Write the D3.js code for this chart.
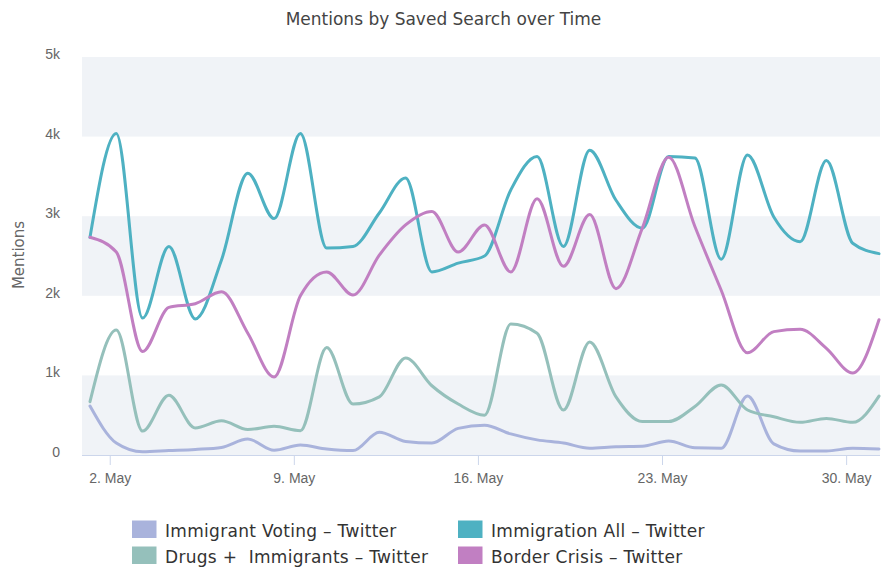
<!DOCTYPE html>
<html>
<head>
<meta charset="utf-8">
<script src="https://cdn.jsdelivr.net/npm/d3@7"></script>
<style>
  body { margin: 0; background: #fff; }
  svg { display: block; }
</style>
</head>
<body>
<script>
const dates = ['2019-05-01T06:00', '2019-05-02T06:00', '2019-05-03T06:00', '2019-05-04T06:00', '2019-05-05T06:00',
  '2019-05-06T06:00', '2019-05-07T06:00', '2019-05-08T06:00', '2019-05-09T06:00', '2019-05-10T06:00',
  '2019-05-11T06:00', '2019-05-12T06:00', '2019-05-13T06:00', '2019-05-14T06:00', '2019-05-15T06:00',
  '2019-05-16T06:00', '2019-05-17T06:00', '2019-05-18T06:00', '2019-05-19T06:00', '2019-05-20T06:00',
  '2019-05-21T06:00', '2019-05-22T06:00', '2019-05-23T06:00', '2019-05-24T06:00', '2019-05-25T06:00',
  '2019-05-26T06:00', '2019-05-27T06:00', '2019-05-28T06:00', '2019-05-29T06:00', '2019-05-30T06:00',
  '2019-05-31T06:00']

const immigrantVoting = [615, 150, 40, 55, 70, 95, 200, 60, 125, 75, 55, 285, 170, 150, 335, 375,
  265, 190, 150, 85, 105, 110, 175, 90, 85, 740, 140, 50, 50, 85, 75]
const drugsImmigrants = [670, 1570, 300, 750, 340, 430, 320, 360, 305, 1350, 640, 730, 1220, 870, 640, 500,
  1645, 1530, 565, 1420, 730, 420, 420, 610, 880, 565, 480, 410, 460, 410, 740]
const immigrationAll = [2735, 4040, 1720, 2620, 1710, 2450, 3540, 2970, 4040, 2600, 2620, 3040, 3480, 2300, 2410, 2500,
  3330, 3750, 2620, 3830, 3200, 2850, 3750, 3730, 2460, 3770, 2990, 2680, 3700, 2660, 2530]
const borderCrisis = [2735, 2550, 1300, 1855, 1900, 2050, 1530, 980, 2000, 2300, 2010, 2510, 2890, 3060, 2550, 2890,
  2300, 3220, 2370, 3020, 2090, 2850, 3740, 2870, 2070, 1285, 1550, 1580, 1340, 1030, 1700]

const seriesNames = ['Immigrant Voting – Twitter', 'Drugs +  Immigrants – Twitter', 'Immigration All – Twitter', 'Border Crisis – Twitter']
const seriesColors = ['#a9b3dc', '#95c0bb', '#4eb1c2', '#c17fc2']
const yTicks = [0, 1000, 2000, 3000, 4000, 5000]
const xTicks = ['2019-05-02', '2019-05-09', '2019-05-16', '2019-05-23', '2019-05-30']

const series = [immigrantVoting, drugsImmigrants, immigrationAll, borderCrisis]

const width = 883, height = 569
const margin = { left: 82, right: 3, top: 57, bottom: 114 }
const parseTime = d3.utcParse('%Y-%m-%dT%H:%M')
const parseDay = d3.utcParse('%Y-%m-%d')

const svg = d3.select('body').append('svg').attr('width', width).attr('height', height)
  .style('font-family', 'DejaVu Sans, sans-serif')

const x = d3.scaleUtc()
  .domain(d3.extent(dates, d => parseTime(d)))
  .range([90, 879])
const y = d3.scaleLinear()
  .domain([0, 5000])
  .range([height - margin.bottom, margin.top])

// alternating plot bands
for (let i = 0; i < yTicks.length - 1; i += 2) {
  svg.append('rect')
    .attr('x', margin.left)
    .attr('width', width - margin.right - margin.left)
    .attr('y', y(yTicks[i + 1]))
    .attr('height', y(yTicks[i]) - y(yTicks[i + 1]))
    .attr('fill', '#f0f3f7')
}

// title
svg.append('text')
  .attr('x', width / 2 + 2).attr('y', 25)
  .attr('text-anchor', 'middle')
  .style('font-size', '17px')
  .attr('fill', '#444')
  .text('Mentions by Saved Search over Time')

// y axis
const yAxis = d3.axisLeft(y).tickValues(yTicks).tickSize(0).tickPadding(0)
  .tickFormat(d => d === 0 ? '0' : (d / 1000) + 'k')
const yG = svg.append('g').attr('transform', 'translate(60,0)').call(yAxis)
yG.select('.domain').remove()
yG.selectAll('text').attr('fill', '#666').style('font-size', '14px').attr('dy', '0.1em')

svg.append('text')
  .attr('transform', 'translate(24,255) rotate(-90)')
  .attr('text-anchor', 'middle')
  .style('font-size', '15px')
  .attr('fill', '#666')
  .text('Mentions')

// x axis
const xAxis = d3.axisBottom(x).tickValues(xTicks.map(parseDay)).tickSize(10).tickPadding(8)
  .tickFormat(d3.utcFormat('%-d. %b'))
const xG = svg.append('g').attr('transform', 'translate(0,' + y(0) + ')').call(xAxis)
xG.select('.domain').attr('d', 'M' + margin.left + ',0.5H' + (width - margin.right)).attr('stroke', '#ccd6eb')
xG.selectAll('.tick line').attr('stroke', '#ccd6eb')
xG.selectAll('text').attr('fill', '#666').style('font-size', '14px')

// lines
const line = d3.line()
  .x((d, i) => x(parseTime(dates[i])))
  .y(d => y(d))
  .curve(d3.curveMonotoneX)

series.forEach((s, k) => {
  svg.append('path')
    .attr('d', line(s))
    .attr('fill', 'none')
    .attr('stroke', seriesColors[k])
    .attr('stroke-width', 3)
    .attr('stroke-linejoin', 'round')
    .attr('stroke-linecap', 'round')
})

// legend
const legendPos = [[132, 520.5], [132, 546.5], [458, 520.5], [458, 546.5]]
seriesNames.forEach((name, k) => {
  const g = svg.append('g').attr('transform', 'translate(' + legendPos[k][0] + ',' + legendPos[k][1] + ')')
  g.append('rect').attr('width', 24.5).attr('height', 17.5).attr('fill', seriesColors[k])
  g.append('text').attr('x', 33).attr('y', 16.5)
    .style('font-size', '17px').style('white-space', 'pre').style('letter-spacing', '0.3px')
    .attr('fill', '#333')
    .text(name)
})
</script>
</body>
</html>
